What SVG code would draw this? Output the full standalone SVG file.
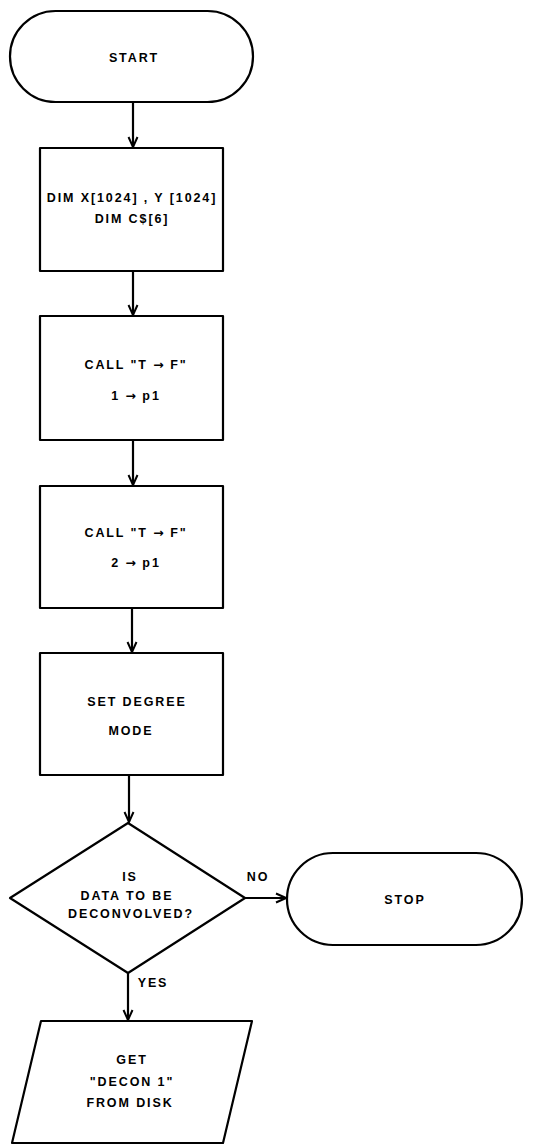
<svg xmlns="http://www.w3.org/2000/svg" width="542" height="1145" viewBox="0 0 542 1145">
<defs>
<style>
.s{fill:#fff;stroke:#000;stroke-width:2.2;stroke-linejoin:round}
.t{font-family:"Liberation Sans",Arial,sans-serif;font-weight:bold;font-size:12.5px;letter-spacing:1.9px;text-anchor:middle;fill:#000}
.a{font-family:"DejaVu Sans",sans-serif;letter-spacing:1px}
.c{fill:none;stroke:#000;stroke-width:2.2}
</style>
<marker id="ah" viewBox="0 0 12 12" refX="11" refY="6" markerWidth="12" markerHeight="12" markerUnits="userSpaceOnUse" orient="auto">
<path d="M1,1.5 L11,6 L1,10.5" fill="none" stroke="#000" stroke-width="2"/>
</marker>
</defs>
<rect width="542" height="1145" fill="#fff"/>
<g id="start"><rect class="s" x="10" y="11" width="243" height="91" rx="45.5"/><text class="t" x="134" y="62">START</text></g>
<g id="dim"><rect class="s" x="40" y="148" width="183" height="123"/><text class="t" x="132" y="202">DIM X[1024] , Y [1024]</text><text class="t" x="132" y="223">DIM C$[6]</text></g>
<g id="call1"><rect class="s" x="40" y="316" width="183" height="124"/><text class="t" x="136" y="369">CALL "T <tspan class="a">→</tspan> F"</text><text class="t" x="136" y="400">1 <tspan class="a">→</tspan> p1</text></g>
<g id="call2"><rect class="s" x="40" y="486" width="183" height="122"/><text class="t" x="136" y="537">CALL "T <tspan class="a">→</tspan> F"</text><text class="t" x="136" y="567">2 <tspan class="a">→</tspan> p1</text></g>
<g id="degree"><rect class="s" x="40" y="653" width="183" height="122"/><text class="t" x="137" y="706">SET DEGREE</text><text class="t" x="131" y="735">MODE</text></g>
<g id="decide"><polygon class="s" points="128,823 245,898 128,973 10,898"/><text class="t" x="130" y="881">IS</text><text class="t" x="127" y="900">DATA TO BE</text><text class="t" x="131" y="918">DECONVOLVED?</text></g>
<g id="stop"><rect class="s" x="287" y="853" width="235" height="92" rx="46"/><text class="t" x="405" y="904">STOP</text></g>
<g id="get"><polygon class="s" points="41,1021 252,1021 223,1143 12,1143"/><text class="t" x="132" y="1064">GET</text><text class="t" x="132" y="1086">"DECON 1"</text><text class="t" x="130" y="1107">FROM DISK</text></g>
<g id="connectors">
<line class="c" x1="133" y1="102" x2="133" y2="147" marker-end="url(#ah)"/>
<line class="c" x1="133" y1="271" x2="133" y2="315" marker-end="url(#ah)"/>
<line class="c" x1="133" y1="440" x2="133" y2="485" marker-end="url(#ah)"/>
<line class="c" x1="132" y1="608" x2="132" y2="652" marker-end="url(#ah)"/>
<line class="c" x1="129" y1="775" x2="129" y2="822" marker-end="url(#ah)"/>
<line class="c" x1="245" y1="898" x2="286" y2="898" marker-end="url(#ah)"/>
<line class="c" x1="128" y1="973" x2="128" y2="1020" marker-end="url(#ah)"/>
<text class="t" x="258" y="881">NO</text>
<text class="t" x="153" y="987">YES</text>
</g>
</svg>
